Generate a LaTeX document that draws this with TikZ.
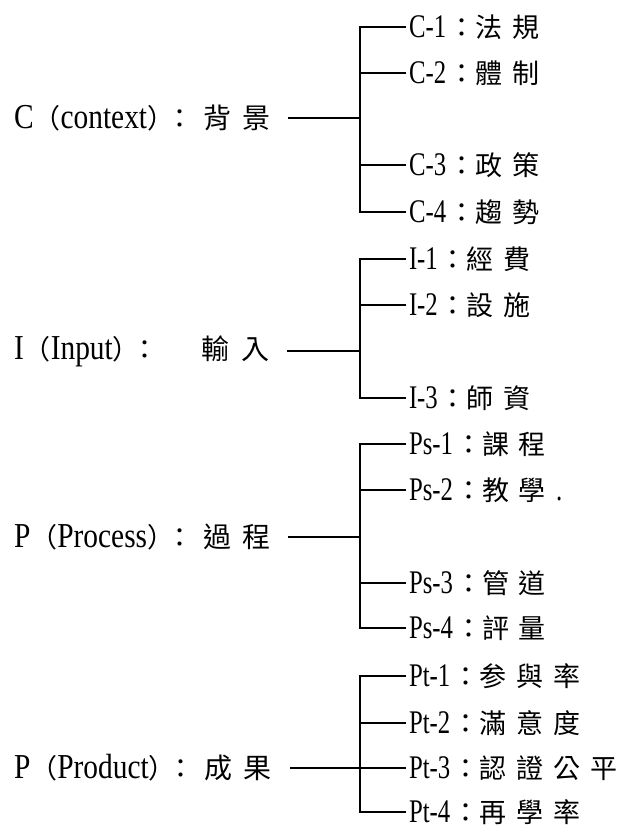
\documentclass[tikz,border=0pt]{standalone}
\usepackage{fontspec}
\setmainfont[FakeStretch=0.75]{Liberation Serif}
\newfontfamily\rootfont[FakeStretch=0.84]{Liberation Serif}
\newfontfamily\cjk[LetterSpace=37]{Noto Sans CJK TC}
\newfontfamily\cjkr[LetterSpace=40]{Noto Sans CJK TC}
\newfontfamily\cjkp{Noto Sans CJK TC}
\newcommand\zh[1]{{\fontsize{27}{30}\cjk #1}}
\newcommand\zr[1]{{\fontsize{28}{30}\cjkr #1}}
\newcommand\zp[1]{{\fontsize{27}{30}\cjkp #1}}
\newcommand\col{\kern2pt\zp{：}}

\begin{document}
\begin{tikzpicture}[x=1pt,y=-1pt,line width=1.8pt,
    root/.style={anchor=west,inner xsep=0pt,outer sep=0pt,font=\fontsize{35}{40}\rootfont},
    leaf/.style={anchor=west,inner xsep=3pt,outer sep=0pt,font=\fontsize{33}{36}\selectfont},
    stem/.style={shorten <=18pt}]
\useasboundingbox (0,0) rectangle (631,828);
% context
\node[root] (c) at (14,118) {C\zp{（}context\zp{）\kern-8pt：}\kern10pt\zr{背景}};
\coordinate (cj) at (360,118);
\node[leaf] (c1) at (406,27) {C-1\col\zh{法規}};
\node[leaf] (c2) at (406,73) {C-2\col\zh{體制}};
\node[leaf] (c3) at (406,165) {C-3\col\zh{政策}};
\node[leaf] (c4) at (406,212) {C-4\col\zh{趨勢}};
% input
\node[root] (i) at (14,351) {I\zp{（}Input\zp{）\kern-8pt：}\hspace{43pt}\zr{輸入}};
\coordinate (ij) at (360,351);
\node[leaf] (i1) at (406,259) {I-1\col\zh{經費}};
\node[leaf] (i2) at (406,305) {I-2\col\zh{設施}};
\node[leaf] (i3) at (406,398) {I-3\col\zh{師資}};
% process
\node[root] (p) at (14,537) {P\zp{（}Process\zp{）\kern-8pt：}\kern10pt\zr{過程}};
\coordinate (pj) at (360,537);
\node[leaf] (p1) at (406,444) {Ps-1\col\zh{課程}};
\node[leaf] (p2) at (406,490) {Ps-2\col\zh{教學}\hspace{10pt}.};
\node[leaf] (p3) at (406,583) {Ps-3\col\zh{管道}};
\node[leaf] (p4) at (406,628) {Ps-4\col\zh{評量}};
% product
\node[root] (t) at (14,768) {P\zp{（}Product\zp{）\kern-8pt：}\kern10pt\zr{成果}};
\coordinate (tj) at (360,768);
\node[leaf] (t1) at (406,676) {Pt-1\col\zh{参與率}};
\node[leaf] (t2) at (406,723) {Pt-2\col\zh{滿意度}};
\node[leaf] (t3) at (406,768) {Pt-3\col\zh{認證公平}};
\node[leaf] (t4) at (406,812) {Pt-4\col\zh{再學率}};

\draw[stem] (c) -- (cj);
\draw (c1.west) -| (cj) |- (c4.west);
\draw (c2.west) -| (cj);
\draw (c3.west) -| (cj);
\draw[stem] (i) -- (ij);
\draw (i1.west) -| (ij) |- (i3.west);
\draw (i2.west) -| (ij);
\draw[stem] (p) -- (pj);
\draw (p1.west) -| (pj) |- (p4.west);
\draw (p2.west) -| (pj);
\draw (p3.west) -| (pj);
\draw[stem] (t) -- (tj);
\draw (t1.west) -| (tj) |- (t4.west);
\draw (t2.west) -| (tj);
\draw (t3.west) -- (tj);
\end{tikzpicture}
\end{document}
